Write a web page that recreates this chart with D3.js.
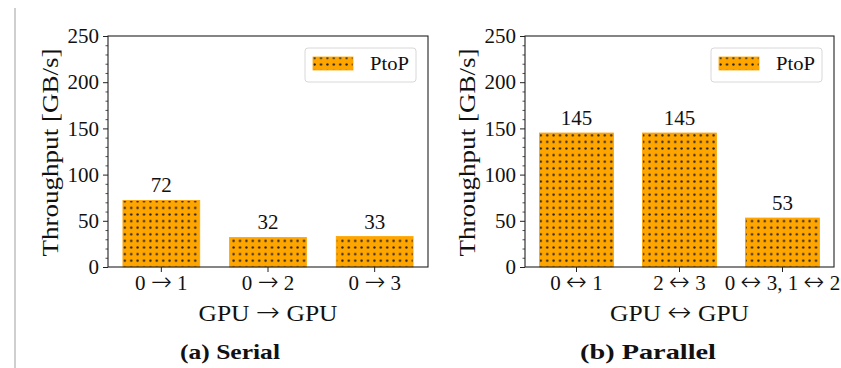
<!DOCTYPE html>
<html>
<head>
<meta charset="utf-8">
<script src="https://cdn.jsdelivr.net/npm/d3@7"></script>
<style>
  html, body { margin: 0; padding: 0; background: #fff; }
  svg { display: block; }
  text { font-family: "Liberation Serif", "Times New Roman", Tinos, serif; fill: #111; }
</style>
</head>
<body>
<svg id="chart" width="841" height="368"></svg>
<script>
// ---- data ----
const serialCategories = ["0 \u2192 1", "0 \u2192 2", "0 \u2192 3"];
const serialValues = [72, 32, 33];
const parallelCategories = ["0 \u2194 1", "2 \u2194 3", "0 \u2194 3, 1 \u2194 2"];
const parallelValues = [145, 145, 53];
const yTickValues = [0, 50, 100, 150, 200, 250];
const seriesName = "PtoP";
const yLabel = "Throughput [GB/s]";
const serialXLabel = "GPU \u2192 GPU";
const parallelXLabel = "GPU \u2194 GPU";
const captions = ["(a) Serial", "(b) Parallel"];

const svg = d3.select("#chart");
const barColor = "#FFA500";
const serif = '"Liberation Serif", "Times New Roman", Tinos, serif';

// hatch pattern (dots)
const defs = svg.append("defs");
const pat = defs.append("pattern")
  .attr("id", "dots").attr("patternUnits", "userSpaceOnUse")
  .attr("width", 6.4).attr("height", 6.6);
pat.append("rect").attr("width", 6.4).attr("height", 6.6).attr("fill", barColor);
pat.append("circle").attr("cx", 3.2).attr("cy", 3.3).attr("r", 1.15).attr("fill", "#222");

// left page-edge line
svg.append("line").attr("x1", 15).attr("x2", 15).attr("y1", 8).attr("y2", 368)
  .attr("stroke", "#cfcfcf").attr("stroke-width", 2);

// write a label with arrows drawn in a thin, longer glyph
function arrowText(sel, str, arrowFs) {
  sel.text(null);
  str.split(/([\u2192\u2194])/).forEach(part => {
    if (part === "") return;
    const ts = sel.append("tspan").text(part);
    if (part === "\u2192" || part === "\u2194") {
      ts.style("font-family", '"DejaVu Sans", sans-serif')
        .attr("font-weight", 200)
        .attr("font-size", arrowFs);
    }
  });
}

function drawPanel(opts) {
  const { left, right, top, bottom, cats, vals, xlabel, caption, captionX, captionLen } = opts;
  const g = svg.append("g");
  const x = d3.scaleBand().domain(cats).range([left, right]).paddingInner(0.28).paddingOuter(0.14);
  const y = d3.scaleLinear().domain([0, 250]).range([bottom, top]);

  // bars
  g.selectAll("rect.bar").data(vals).join("rect")
    .attr("class", "bar")
    .attr("x", (d, i) => x(cats[i]))
    .attr("width", x.bandwidth())
    .attr("y", d => y(d))
    .attr("height", d => y(0) - y(d))
    .attr("fill", "url(#dots)")
    .attr("stroke", barColor).attr("stroke-width", 0.8);

  // value labels
  g.selectAll("text.val").data(vals).join("text")
    .attr("class", "val")
    .attr("x", (d, i) => x(cats[i]) + x.bandwidth() / 2)
    .attr("y", d => y(d) - 8)
    .attr("text-anchor", "middle")
    .attr("font-size", 21)
    .text(d => d);

  // y axis major
  const yAxis = g.append("g").attr("transform", `translate(${left},0)`)
    .call(d3.axisLeft(y).tickValues(yTickValues).tickSize(5).tickPadding(4));
  yAxis.attr("font-family", null);
  yAxis.select(".domain").remove();
  yAxis.selectAll("text").attr("font-size", 21).style("font-family", serif).attr("fill", "#111");
  yAxis.selectAll("line").attr("stroke", "#222").attr("stroke-width", 1);

  // y axis minor
  const minorVals = d3.range(0, 251, 10).filter(v => v % 50 !== 0);
  const yMinor = g.append("g").attr("transform", `translate(${left},0)`)
    .call(d3.axisLeft(y).tickValues(minorVals).tickSize(2.5).tickFormat(""));
  yMinor.select(".domain").remove();
  yMinor.selectAll("line").attr("stroke", "#222").attr("stroke-width", 0.8);

  // x axis
  const xAxis = g.append("g").attr("transform", `translate(0,${bottom})`)
    .call(d3.axisBottom(x).tickSize(5).tickPadding(3));
  xAxis.attr("font-family", null);
  xAxis.select(".domain").remove();
  xAxis.selectAll("text").attr("font-size", 21).style("font-family", serif).attr("fill", "#111")
    .each(function(d) { arrowText(d3.select(this), d, 25); });
  xAxis.selectAll("line").attr("stroke", "#222").attr("stroke-width", 1);

  // spines
  g.append("rect").attr("x", left).attr("y", top).attr("width", right - left).attr("height", bottom - top)
    .attr("fill", "none").attr("stroke", "#222").attr("stroke-width", 1.1);

  // y label
  g.append("text")
    .attr("transform", `translate(${left - 58},${(top + bottom) / 2 + 1}) rotate(-90)`)
    .attr("text-anchor", "middle").attr("dominant-baseline", "central")
    .attr("font-size", 23)
    .attr("textLength", 208).attr("lengthAdjust", "spacingAndGlyphs")
    .text(yLabel);

  // x label
  const xl = g.append("text")
    .attr("x", (left + right) / 2).attr("y", 321)
    .attr("text-anchor", "middle")
    .attr("font-size", 23);
  arrowText(xl, xlabel, 26);
  xl.attr("textLength", 139).attr("lengthAdjust", "spacingAndGlyphs");

  // legend
  const lg = g.append("g").attr("transform", `translate(${right - 123},${top + 12})`);
  lg.append("rect").attr("width", 111).attr("height", 34).attr("rx", 3)
    .attr("fill", "#fff").attr("fill-opacity", 0.8).attr("stroke", "#d8d8d8").attr("stroke-width", 1);
  lg.append("rect").attr("x", 8).attr("y", 9).attr("width", 40).attr("height", 13)
    .attr("fill", "url(#dots)").attr("stroke", barColor).attr("stroke-width", 0.8);
  lg.append("text").attr("x", 65).attr("y", 16).attr("dominant-baseline", "central")
    .attr("font-size", 18)
    .attr("textLength", 39).attr("lengthAdjust", "spacingAndGlyphs")
    .text(seriesName);

  // caption
  svg.append("text")
    .attr("x", captionX).attr("y", 359)
    .attr("text-anchor", "middle")
    .attr("font-size", 22).attr("font-weight", "bold")
    .attr("textLength", captionLen).attr("lengthAdjust", "spacingAndGlyphs")
    .text(caption);
}

drawPanel({ left: 108, right: 428, top: 36, bottom: 267,
  cats: serialCategories, vals: serialValues, xlabel: serialXLabel,
  caption: captions[0], captionX: 230, captionLen: 100 });
drawPanel({ left: 525, right: 834, top: 36, bottom: 267,
  cats: parallelCategories, vals: parallelValues, xlabel: parallelXLabel,
  caption: captions[1], captionX: 648, captionLen: 136 });
</script>
</body>
</html>
